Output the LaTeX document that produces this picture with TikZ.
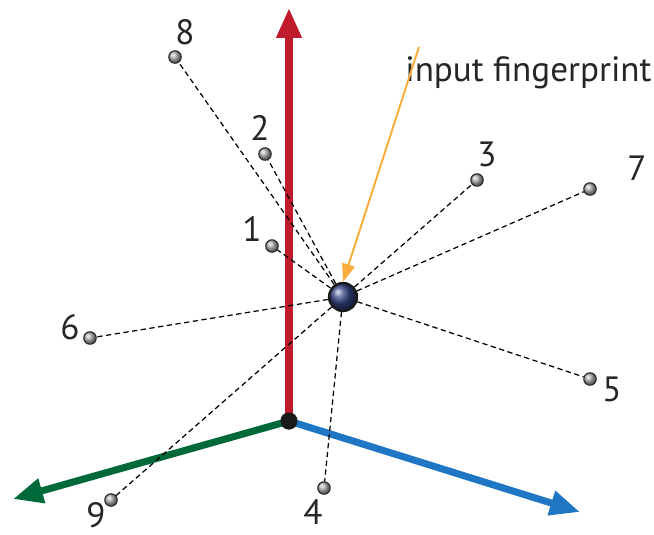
\documentclass[tikz,border=0pt]{standalone}
\usepackage{fontspec}
\setmainfont{PT Sans}
\usetikzlibrary{arrows.meta,shadings}
\definecolor{axred}{HTML}{C01B2C}
\definecolor{axgreen}{HTML}{00693A}
\definecolor{axblue}{HTML}{1F77C4}
\definecolor{pointer}{HTML}{F9AE3B}
\definecolor{ballnavy}{HTML}{324384}

\begin{document}
\begin{tikzpicture}[
    x=0.02cm, y=-0.02cm,
    font=\fontsize{20}{24}\selectfont,
    axis/.style={
        line width=4pt, -{Triangle[length=6mm, width=4.8mm]}
    },
    sample/.style={
        circle, draw=black!85, line width=0.6pt, inner sep=0pt,
        minimum size=2.5mm, ball color=black!30
    },
    query/.style={
        circle, draw=black!90, line width=1.3pt, inner sep=0pt,
        minimum size=5.6mm, ball color=ballnavy
    },
    link/.style={
        dashed, line width=0.7pt, dash pattern=on 3pt off 2pt
    },
    num/.style={
        inner sep=0pt, text=black!85
    }
]
\useasboundingbox (0,0) rectangle (654,535);

% --- origin and the three axes ---
\node[circle, fill=black!90, minimum size=3.4mm, inner sep=0pt] (o) at (289,421) {};
\coordinate (ztip) at (289,8);
\coordinate (xtip) at (13,499);
\coordinate (ytip) at (580,512);
\draw[axis, axred] (o.center) -- (ztip);
\draw[axis, axgreen] (o.center) -- (xtip);
\draw[axis, axblue] (o.center) -- (ytip);
\node[circle, fill=black!90, minimum size=3.4mm, inner sep=0pt] at (o) {};

% --- stored fingerprints ---
\node[sample] (p1) at (272,246) {};
\node[sample] (p2) at (265,154) {};
\node[sample] (p3) at (477,180) {};
\node[sample] (p4) at (324,488) {};
\node[sample] (p5) at (590,379) {};
\node[sample] (p6) at (90,338) {};
\node[sample] (p7) at (590,189) {};
\node[sample] (p8) at (175,57) {};
\node[sample] (p9) at (111,500) {};

\node[num] (n1) at (252,229) {1};
\node[num] (n2) at (260,128) {2};
\node[num] (n3) at (487,154) {3};
\node[num] (n4) at (313,512) {4};
\node[num] (n5) at (612,389) {5};
\node[num] (n6) at (70,327) {6};
\node[num] (n7) at (637,168) {7};
\node[num] (n8) at (185,32) {8};
\node[num] (n9) at (96,515) {9};

% --- query point, with distances to every sample ---
\node[query] (fp) at (343,297) {};
\draw[link] (fp) -- (p1);
\draw[link] (fp) -- (p2);
\draw[link] (fp) -- (p3);
\draw[link] (fp) -- (p4);
\draw[link] (fp) -- (p5);
\draw[link] (fp) -- (p6);
\draw[link] (fp) -- (p7);
\draw[link] (fp) -- (p8);
\draw[link] (fp) -- (p9);

% --- pointer to the query ---
\node[anchor=west, inner sep=0pt, text=black!85] (cap) at (405,73) {input fingerprint};
\coordinate (tail) at (419,47);
\draw[pointer, line width=1.1pt, -{Triangle[length=3.6mm, width=2.6mm]}] (tail) -- (fp.north);

\end{tikzpicture}
\end{document}
